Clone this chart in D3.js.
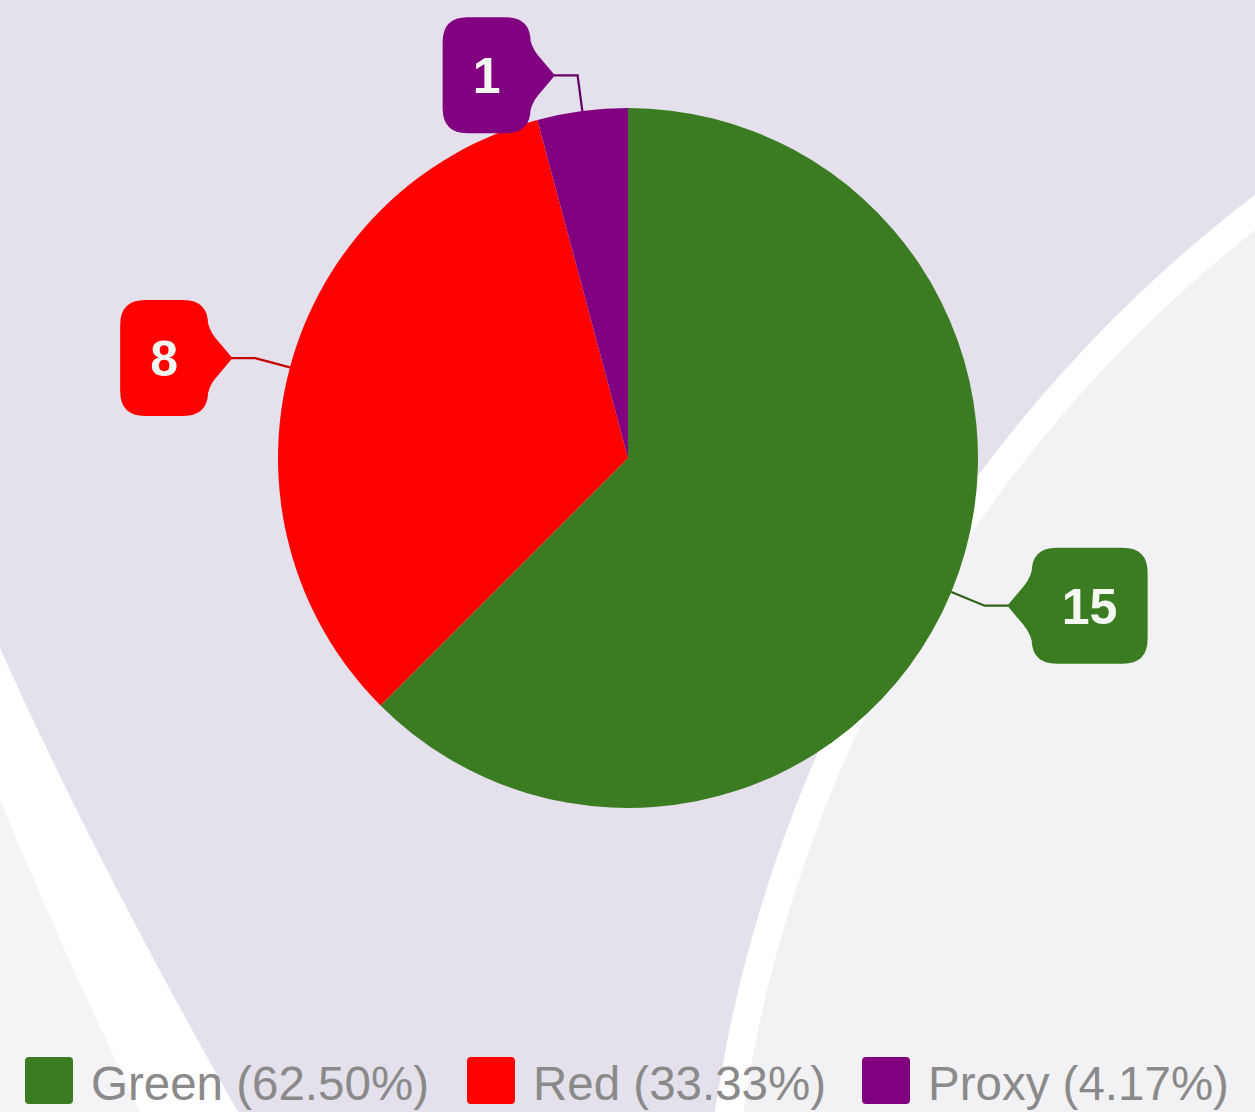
<!DOCTYPE html>
<html>
<head>
<meta charset="utf-8">
<script src="https://cdn.jsdelivr.net/npm/d3@7"></script>
<style>
  html, body { margin: 0; padding: 0; background: #f2f2f4; }
  svg { display: block; }
</style>
</head>
<body>
<div class="chart"></div>
<script>
const categories = ["Green", "Red", "Proxy"];
const values = [15, 8, 1];
const colors = ["#3b7b21", "#ff0000", "#800080"];

const width = 1255, height = 1112;
const cx = 628, cy = 458, radius = 350;

const svg = d3.select(".chart").append("svg")
    .attr("width", width)
    .attr("height", height);

// background decoration
svg.append("rect")
    .attr("width", width)
    .attr("height", height)
    .attr("fill", "#e4e1ec");

// right hand band
svg.append("circle")
    .attr("cx", 2112).attr("cy", 1317).attr("r", 1412)
    .attr("fill", "#ffffff");
svg.append("circle")
    .attr("cx", 2112).attr("cy", 1317).attr("r", 1384)
    .attr("fill", "#f2f2f4");

// left hand band
svg.append("path")
    .attr("d", "M0,648 Q95,860 238,1112 L0,1112 Z")
    .attr("fill", "#ffffff");
svg.append("path")
    .attr("d", "M0,800 Q60,945 140,1112 L0,1112 Z")
    .attr("fill", "#f4f4f6");

const data = categories.map((c, i) => ({ name: c, value: values[i], color: colors[i] }));
const total = d3.sum(values);

const pie = d3.pie().sort(null).value(d => d.value);
const arcs = pie(data);

const arc = d3.arc().innerRadius(0).outerRadius(radius);
const edgeArc = d3.arc().innerRadius(radius).outerRadius(radius);
const elbowArc = d3.arc().innerRadius(radius + 36).outerRadius(radius + 36);

const g = svg.append("g").attr("transform", `translate(${cx},${cy})`);

g.selectAll("path.slice")
    .data(arcs)
    .enter().append("path")
    .attr("class", "slice")
    .attr("d", arc)
    .attr("fill", d => d.data.color);

// callout labels
const labels = g.selectAll("g.callout")
    .data(arcs)
    .enter().append("g")
    .attr("class", "callout");

labels.each(function(d) {
    const grp = d3.select(this);
    const mid = (d.startAngle + d.endAngle) / 2;
    const dir = Math.sin(mid) < 0 ? -1 : 1;
    const p0 = edgeArc.centroid(d);
    const p1 = elbowArc.centroid(d);
    const tipX = p1[0] + dir * 24;
    const tipY = p1[1];

    grp.append("path")
        .attr("d", `M${p0[0]},${p0[1]} L${p1[0]},${p1[1]} L${tipX},${tipY}`)
        .attr("fill", "none")
        .attr("stroke", d3.color(d.data.color).darker(0.7))
        .attr("stroke-width", 2.2);

    const txt = String(d.data.value);
    const boxW = txt.length * 28 + 58;
    const boxH = 114, rr = 24, ptr = 24, half = 44;
    const bx = tipX + dir * ptr;           // box edge next to the pointer
    const farX = bx + dir * boxW;
    const top = tipY - boxH / 2, bot = tipY + boxH / 2;
    const x0 = Math.min(bx, farX), x1 = Math.max(bx, farX);

    // rounded box
    const p = d3.path();
    p.moveTo(x0 + rr, top);
    p.lineTo(x1 - rr, top);
    p.quadraticCurveTo(x1, top, x1, top + rr);
    p.lineTo(x1, bot - rr);
    p.quadraticCurveTo(x1, bot, x1 - rr, bot);
    p.lineTo(x0 + rr, bot);
    p.quadraticCurveTo(x0, bot, x0, bot - rr);
    p.lineTo(x0, top + rr);
    p.quadraticCurveTo(x0, top, x0 + rr, top);
    p.closePath();
    // pointer, leaving the box edge with a concave fillet
    p.moveTo(bx + dir * 2, tipY - half);
    p.quadraticCurveTo(bx, tipY - half + 16, bx - dir * 8, tipY - 19);
    p.lineTo(tipX, tipY);
    p.lineTo(bx - dir * 8, tipY + 19);
    p.quadraticCurveTo(bx, tipY + half - 16, bx + dir * 2, tipY + half);
    p.closePath();

    grp.append("path")
        .attr("d", p.toString())
        .attr("fill", d.data.color)
        .attr("stroke", d.data.color)
        .attr("stroke-linejoin", "round")
        .attr("stroke-width", 2);

    grp.append("text")
        .attr("x", (x0 + x1) / 2)
        .attr("y", tipY + 18)
        .attr("text-anchor", "middle")
        .attr("font-family", "'Liberation Sans', Arial, sans-serif")
        .attr("font-weight", "bold")
        .attr("font-size", 50)
        .attr("fill", "#f4f8f0")
        .text(txt);
});

// legend
const legend = svg.append("g").attr("class", "legend");
const legendX = [25, 467, 862];

data.forEach((d, i) => {
    const item = legend.append("g").attr("transform", `translate(${legendX[i]},1057)`);
    item.append("rect")
        .attr("width", 48)
        .attr("height", 47)
        .attr("rx", 4)
        .attr("fill", d.color);
    item.append("text")
        .attr("x", 66)
        .attr("y", 43)
        .attr("font-family", "'Liberation Sans', Arial, sans-serif")
        .attr("font-size", 47.5)
        .attr("fill", "#8a8a8a")
        .text(`${d.name} (${(d.value / total * 100).toFixed(2)}%)`);
});
</script>
</body>
</html>
